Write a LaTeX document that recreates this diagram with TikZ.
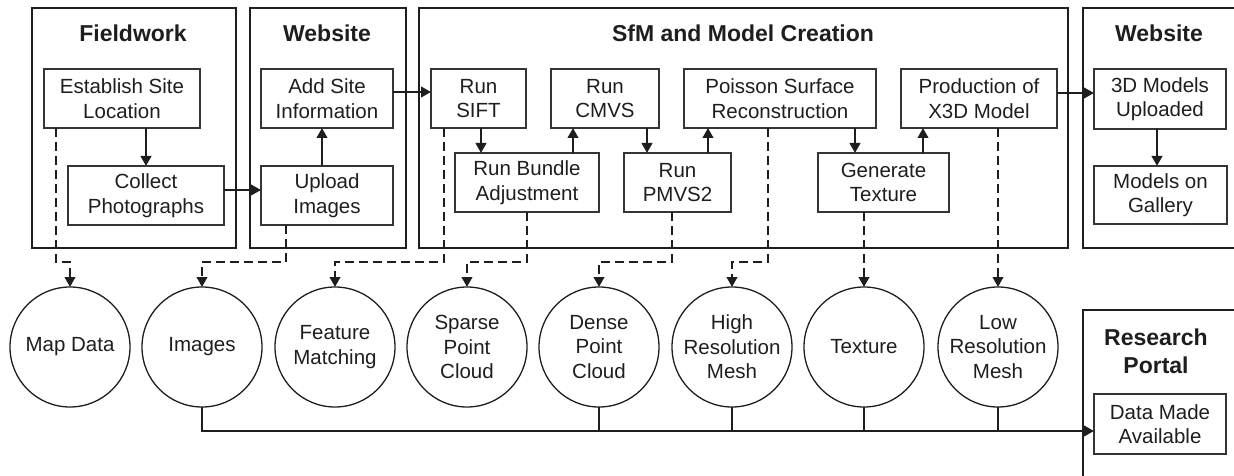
\documentclass[tikz,border=0pt]{standalone}
\usepackage{fontspec}
\setmainfont{Liberation Sans}
\usetikzlibrary{arrows.meta,calc}
\definecolor{ink}{HTML}{1E1E1E}
\definecolor{boxline}{HTML}{353535}
\tikzset{
  group/.style={draw=ink,line width=2pt,inner sep=0pt,outer sep=0pt},
  title/.style={font=\fontsize{23}{28}\selectfont\bfseries,text=ink,align=center,inner sep=0pt},
  stepbox/.style={draw=boxline,line width=1.7pt,inner sep=0pt,outer sep=0pt,
    align=center,text=ink,font=\fontsize{20.5}{24.5}\selectfont},
  product/.style={circle,draw=ink,line width=1.3pt,minimum size=120pt,inner sep=0pt,
    outer sep=0pt,align=center,text=ink,font=\fontsize{20.5}{24.5}\selectfont},
  flow/.style={draw=ink,line width=2.4pt,-{Triangle[length=10pt,width=10.5pt]}},
  yields/.style={draw=ink,line width=2.4pt,dash pattern=on 9pt off 5pt,
    -{Triangle[length=10pt,width=10.5pt]}},
  bus/.style={draw=ink,line width=2.4pt},
}
\begin{document}
\begin{tikzpicture}[x=1pt,y=-1pt]
\useasboundingbox (0,0) rectangle (1234,476);
\clip (0,0) rectangle (1234,476);

% stage frames
\node[group,minimum width=204pt,minimum height=240pt] (gfield) at (134,128) {};
\node[group,minimum width=156pt,minimum height=240pt] (gweb) at (328,128) {};
\node[group,minimum width=649pt,minimum height=240pt] (gsfm) at (743.5,128) {};
\node[group,minimum width=167pt,minimum height=240pt] (gweb2) at (1166.5,128) {};
\node[group,minimum width=167pt,minimum height=210pt] (gportal) at (1166.5,415) {};

\node[title] (tfield) at (133,33) {Fieldwork};
\node[title] (tweb) at (327,33) {Website};
\node[title] (tsfm) at (743,33) {SfM and Model Creation};
\node[title] (tweb2) at (1159,33) {Website};
\node[title] (tportal) at (1156,351) {Research\\Portal};

% processing steps
\node[stepbox,minimum width=156pt,minimum height=59pt] (est) at (122,98.5) {Establish Site\\Location};
\node[stepbox,minimum width=156pt,minimum height=59pt] (col) at (146,195.5) {Collect\\Photographs};
\node[stepbox,minimum width=132pt,minimum height=59pt] (add) at (327,98.5) {Add Site\\Information};
\node[stepbox,minimum width=132pt,minimum height=59pt] (upl) at (327,195.5) {Upload\\Images};
\node[stepbox,minimum width=95pt,minimum height=59pt] (sift) at (478.5,98.5) {Run\\SIFT};
\node[stepbox,minimum width=108pt,minimum height=59pt] (cmvs) at (605,98.5) {Run\\CMVS};
\node[stepbox,minimum width=192pt,minimum height=59pt] (poi) at (780,98.5) {Poisson Surface\\Reconstruction};
\node[stepbox,minimum width=156pt,minimum height=59pt] (x3d) at (979,98.5) {Production of\\X3D Model};
\node[stepbox,minimum width=144pt,minimum height=59pt] (bun) at (527,182.5) {Run Bundle\\Adjustment};
\node[stepbox,minimum width=107pt,minimum height=59pt] (pmvs) at (677.5,182.5) {Run\\PMVS2};
\node[stepbox,minimum width=131pt,minimum height=59pt] (gtex) at (883.5,182.5) {Generate\\Texture};
\node[stepbox,minimum width=132pt,minimum height=60pt] (up3d) at (1160,99) {3D Models\\Uploaded};
\node[stepbox,minimum width=133pt,minimum height=58pt] (gal) at (1160.5,195) {Models on\\Gallery};
\node[stepbox,minimum width=132pt,minimum height=60pt] (dma) at (1160,424) {Data Made\\Available};

% data products
\node[product] (map) at (70,347) {Map Data};
\node[product] (img) at (202,347) {Images};
\node[product] (feat) at (335,347) {Feature\\Matching};
\node[product] (sparse) at (467,347) {Sparse\\Point\\Cloud};
\node[product] (dense) at (599,347) {Dense\\Point\\Cloud};
\node[product] (high) at (732,347) {High\\Resolution\\Mesh};
\node[product] (tex) at (864,347) {Texture};
\node[product] (low) at (998,347) {Low\\Resolution\\Mesh};

% workflow
\draw[flow] (est.south -| col.north) -- (col.north);
\draw[flow] (col.east |- 0,190) -- (upl.west |- 0,190);
\draw[flow] (upl.north -| 322,0) -- (add.south -| 322,0);
\draw[flow] (add.east |- 0,92) -- (sift.west |- 0,92);
\draw[flow] (sift.south -| 481,0) -- (bun.north -| 481,0);
\draw[flow] (bun.north -| 573,0) -- (cmvs.south -| 573,0);
\draw[flow] (cmvs.south -| 647,0) -- (pmvs.north -| 647,0);
\draw[flow] (pmvs.north -| 708,0) -- (poi.south -| 708,0);
\draw[flow] (poi.south -| 855,0) -- (gtex.north -| 855,0);
\draw[flow] (gtex.north -| 923,0) -- (x3d.south -| 923,0);
\draw[flow] (x3d.east |- 0,93) -- (up3d.west |- 0,93);
\draw[flow] (up3d.south -| 1157,0) -- (gal.north -| 1157,0);

% outputs of each step
\draw[yields] (est.south -| 56,0) |- (0,262 -| map.north) -- (map.north);
\draw[yields] (upl.south -| 286,0) |- (0,262 -| img.north) -- (img.north);
\draw[yields] (sift.south -| 444,0) |- (0,262 -| feat.north) -- (feat.north);
\draw[yields] (bun.south -| 527,0) |- (0,262 -| sparse.north) -- (sparse.north);
\draw[yields] (pmvs.south -| 672,0) |- (0,262 -| dense.north) -- (dense.north);
\draw[yields] (poi.south -| 768,0) |- (0,262 -| high.north) -- (high.north);
\draw[yields] (gtex.south -| 864,0) -- (tex.north);
\draw[yields] (x3d.south -| 998,0) -- (low.north);

% publication bus
\draw[flow] (img.south) |- (dma.west |- 0,431);
\draw[bus] (dense.south) -- (dense.south |- 0,431);
\draw[bus] (high.south) -- (high.south |- 0,431);
\draw[bus] (tex.south) -- (tex.south |- 0,431);
\draw[bus] (low.south) -- (low.south |- 0,431);
\end{tikzpicture}
\end{document}
